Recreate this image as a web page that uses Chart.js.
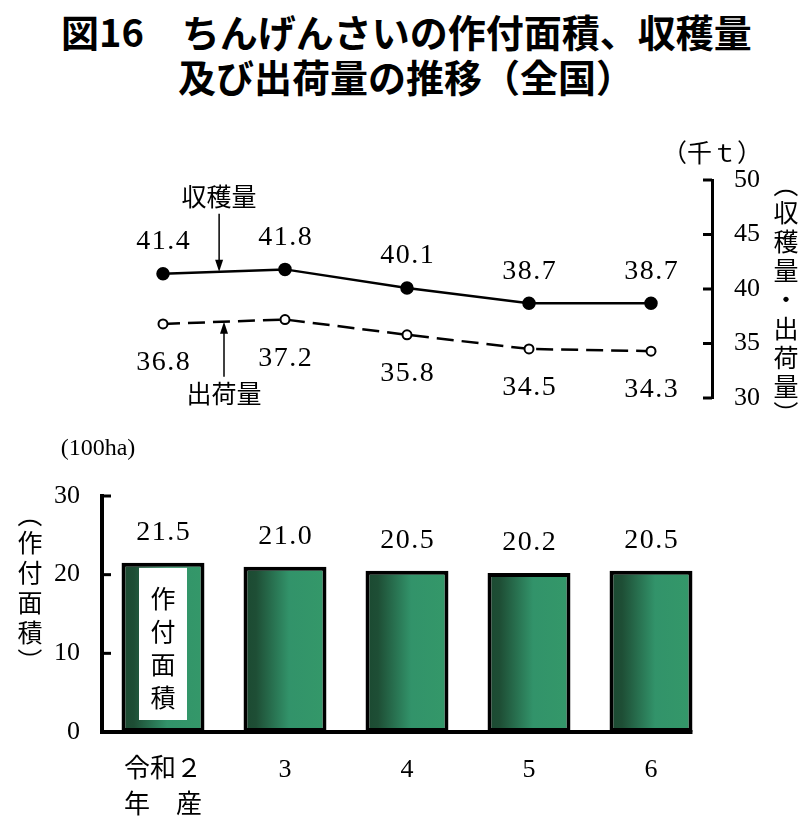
<!DOCTYPE html>
<html>
<head>
<meta charset="utf-8">
<script src="https://cdn.jsdelivr.net/npm/chart.js@4"></script>
<style>
  body { margin: 0; background: #fff; width: 811px; height: 820px; position: relative; overflow: hidden; }
  .ttl { position: absolute; font-family: "Noto Sans CJK JP", sans-serif; font-weight: 700; font-size: 38px; line-height: 38px; color: #000; white-space: pre; }
  #top { position: absolute; left: 0; top: 110px; }
  #bottom { position: absolute; left: 0; top: 420px; }
</style>
</head>
<body>
<div class="ttl" style="left:61px; top:12px;">図16　ちんげんさいの作付面積、収穫量</div>
<div class="ttl" style="left:178px; top:57px;">及び出荷量の推移（全国）</div>
<canvas id="top" width="811" height="330"></canvas>
<canvas id="bottom" width="811" height="400"></canvas>
<script>
const years = [['令和２', '年　産'], '3', '4', '5', '6'];
const harvest = [41.4, 41.8, 40.1, 38.7, 38.7];
const shipment = [36.8, 37.2, 35.8, 34.5, 34.3];
const area = [21.5, 21.0, 20.5, 20.2, 20.5];
const tonTicks = [30, 35, 40, 45, 50];
const haTicks = [0, 10, 20, 30];

const NUM_FONT = '28px "Liberation Serif", "Noto Sans CJK JP", serif';
const TICK_FONT = { family: '"Liberation Serif", "Noto Sans CJK JP", serif', size: 26 };
const JP_FONT = '25px "Noto Sans CJK JP", sans-serif';
const BAR_PCT = 0.68;

// vertical text, parentheses turned and centred by their ink box
function vtext(ctx, text, x, y0, step) {
  ctx.save();
  ctx.font = JP_FONT;
  ctx.textAlign = 'center';
  ctx.textBaseline = 'middle';
  ctx.fillStyle = '#000';
  const chars = [...text];
  const isParen = ch => ch === '（' || ch === '）';
  let y = y0;
  chars.forEach((ch, i) => {
    if (isParen(ch)) {
      const m = ctx.measureText(ch);
      const cxOff = (m.actualBoundingBoxRight - m.actualBoundingBoxLeft) / 2;
      const cyOff = (m.actualBoundingBoxDescent - m.actualBoundingBoxAscent) / 2;
      ctx.save();
      ctx.translate(x, y);
      ctx.rotate(Math.PI / 2);
      ctx.fillText(ch, -cxOff, -cyOff);
      ctx.restore();
    } else {
      ctx.fillText(ch, x, y);
    }
    const next = chars[i + 1];
    if (next !== undefined) y += (isParen(ch) || isParen(next)) ? step * 0.66 : step;
  });
  ctx.restore();
}

function numText(ctx, s, x, y) {
  ctx.save();
  ctx.font = NUM_FONT;
  ctx.letterSpacing = '1.5px';
  ctx.fillStyle = '#000';
  ctx.textAlign = 'center';
  ctx.textBaseline = 'middle';
  ctx.fillText(s, x + 0.75, y);
  ctx.restore();
}

function arrow(ctx, x, yFrom, yTo) {
  const dir = yTo > yFrom ? 1 : -1;
  ctx.save();
  ctx.strokeStyle = '#000';
  ctx.fillStyle = '#000';
  ctx.lineWidth = 1.5;
  ctx.beginPath();
  ctx.moveTo(x, yFrom);
  ctx.lineTo(x, yTo - dir * 8);
  ctx.stroke();
  ctx.beginPath();
  ctx.moveTo(x, yTo);
  ctx.lineTo(x - 4, yTo - dir * 12);
  ctx.lineTo(x + 4, yTo - dir * 12);
  ctx.closePath();
  ctx.fill();
  ctx.restore();
}

const topExtras = {
  id: 'topExtras',
  afterDraw(chart) {
    const ctx = chart.ctx;
    const x = chart.scales.x;
    const y = chart.scales.y;
    const ca = chart.chartArea;
    // inward ticks
    ctx.save();
    ctx.strokeStyle = '#000';
    ctx.lineWidth = 3;
    tonTicks.forEach(t => {
      const py = y.getPixelForValue(t);
      ctx.beginPath();
      ctx.moveTo(ca.right - 9, py);
      ctx.lineTo(ca.right, py);
      ctx.stroke();
    });
    ctx.restore();
    // value labels
    harvest.forEach((v, i) => {
      numText(ctx, v.toFixed(1), x.getPixelForValue(i), y.getPixelForValue(v) - 32);
    });
    shipment.forEach((v, i) => {
      numText(ctx, v.toFixed(1), x.getPixelForValue(i), y.getPixelForValue(v) + 39);
    });
    // series notes with arrows
    const x0 = x.getPixelForValue(0), x1 = x.getPixelForValue(1);
    const ax1 = x0 + (x1 - x0) * 0.46;
    const tip1 = y.getPixelForValue(harvest[0] + (harvest[1] - harvest[0]) * 0.46);
    const ax2 = x0 + (x1 - x0) * 0.5;
    const tip2 = y.getPixelForValue(shipment[0] + (shipment[1] - shipment[0]) * 0.5);
    arrow(ctx, ax1, tip1 - 58, tip1);
    arrow(ctx, ax2, tip2 + 55, tip2);
    ctx.save();
    ctx.font = JP_FONT;
    ctx.fillStyle = '#000';
    ctx.textAlign = 'center';
    ctx.textBaseline = 'middle';
    ctx.fillText('収穫量', ax1, tip1 - 75);
    ctx.fillText('出荷量', ax2, tip2 + 72);
    ctx.fillText('（千ｔ）', ca.right, 42);
    ctx.restore();
    vtext(ctx, '（収穫量・出荷量）', 786, ca.top + 13, 29);
  }
};

new Chart(document.getElementById('top'), {
  type: 'line',
  data: {
    labels: years,
    datasets: [{
      label: '収穫量',
      data: harvest,
      borderColor: '#000',
      borderWidth: 2.5,
      pointRadius: 5.5,
      pointBackgroundColor: '#000',
      pointBorderColor: '#000',
      tension: 0
    }, {
      label: '出荷量',
      data: shipment,
      borderColor: '#000',
      borderWidth: 2.5,
      borderDash: [17, 8],
      pointRadius: 4.5,
      pointBorderWidth: 2,
      pointBackgroundColor: '#fff',
      pointBorderColor: '#000',
      tension: 0
    }]
  },
  options: {
    responsive: false,
    animation: false,
    layout: { padding: { left: 102, top: 70, bottom: 42, right: 0 } },
    plugins: { legend: { display: false }, tooltip: { enabled: false } },
    scales: {
      x: { type: 'category', offset: true, display: false },
      y: {
        position: 'right',
        min: 30,
        max: 50,
        afterFit: s => { s.width = 99; },
        afterBuildTicks: s => { s.ticks = tonTicks.map(v => ({ value: v })); },
        grid: { display: false, drawTicks: false },
        border: { display: true, color: '#000', width: 3 },
        ticks: { color: '#000', font: TICK_FONT, padding: 22 }
      }
    }
  },
  plugins: [topExtras]
});

const bottomExtras = {
  id: 'bottomExtras',
  afterDatasetsDraw(chart) {
    const ctx = chart.ctx;
    const x = chart.scales.x;
    const y = chart.scales.y;
    const ca = chart.chartArea;
    const half = x.width / years.length * BAR_PCT / 2;
    ctx.save();
    ctx.strokeStyle = '#000';
    ctx.lineWidth = 4;
    // x axis line up to the last bar
    ctx.beginPath();
    ctx.moveTo(ca.left - 2, ca.bottom);
    ctx.lineTo(x.getPixelForValue(years.length - 1) + half, ca.bottom);
    ctx.stroke();
    ctx.lineWidth = 3;
    haTicks.forEach(t => {
      const py = y.getPixelForValue(t);
      ctx.beginPath();
      ctx.moveTo(ca.left, py);
      ctx.lineTo(ca.left + 9, py);
      ctx.stroke();
    });
    ctx.restore();
    // value labels
    area.forEach((v, i) => {
      numText(ctx, v.toFixed(1), x.getPixelForValue(i), y.getPixelForValue(v) - 30);
    });
    // label box inside the first bar
    const bx = x.getPixelForValue(0);
    const top = y.getPixelForValue(area[0]) + 5;
    const bottom = ca.bottom - 12;
    ctx.save();
    ctx.fillStyle = '#fff';
    ctx.fillRect(bx - 24, top, 48, bottom - top);
    ctx.restore();
    vtext(ctx, '作付面積', bx, top + 31, 33);
    ctx.save();
    ctx.font = '24px "Liberation Serif", serif';
    ctx.fillStyle = '#000';
    ctx.textAlign = 'center';
    ctx.textBaseline = 'middle';
    ctx.fillText('(100ha)', 98, 29);
    ctx.restore();
    vtext(ctx, '（作付面積）', 30, 103, 30);
  }
};

new Chart(document.getElementById('bottom'), {
  type: 'bar',
  data: {
    labels: years,
    datasets: [{
      label: '作付面積',
      data: area,
      borderColor: '#000',
      borderWidth: 4,
      borderSkipped: false,
      categoryPercentage: 1,
      barPercentage: BAR_PCT,
      backgroundColor: c => {
        const chart = c.chart;
        if (!chart.chartArea || c.dataIndex === undefined) return '#2a7a50';
        const xs = chart.scales.x;
        const cx = xs.getPixelForValue(c.dataIndex);
        const half = xs.width / years.length * BAR_PCT / 2;
        const g = chart.ctx.createLinearGradient(cx - half, 0, cx + half, 0);
        g.addColorStop(0, '#1b4931');
        g.addColorStop(0.15, '#1e4e35');
        g.addColorStop(0.55, '#32936a');
        g.addColorStop(1, '#349869');
        return g;
      }
    }]
  },
  options: {
    responsive: false,
    animation: false,
    layout: { padding: { left: 0, top: 76, bottom: 0, right: 99 } },
    plugins: { legend: { display: false }, tooltip: { enabled: false } },
    scales: {
      x: {
        afterFit: s => { s.height = 88; },
        grid: { display: false, drawTicks: false },
        border: { display: false },
        ticks: {
          color: '#000',
          font: { family: '"Liberation Serif", "Noto Sans CJK JP", serif', size: 26, lineHeight: 1.4 },
          padding: 20,
          maxRotation: 0
        }
      },
      y: {
        min: 0,
        max: 30,
        afterFit: s => { s.width = 102; },
        afterBuildTicks: s => { s.ticks = haTicks.map(v => ({ value: v })); },
        grid: { display: false, drawTicks: false },
        border: { display: true, color: '#000', width: 4 },
        ticks: { color: '#000', font: TICK_FONT, padding: 22 }
      }
    }
  },
  plugins: [bottomExtras]
});
</script>
</body>
</html>
